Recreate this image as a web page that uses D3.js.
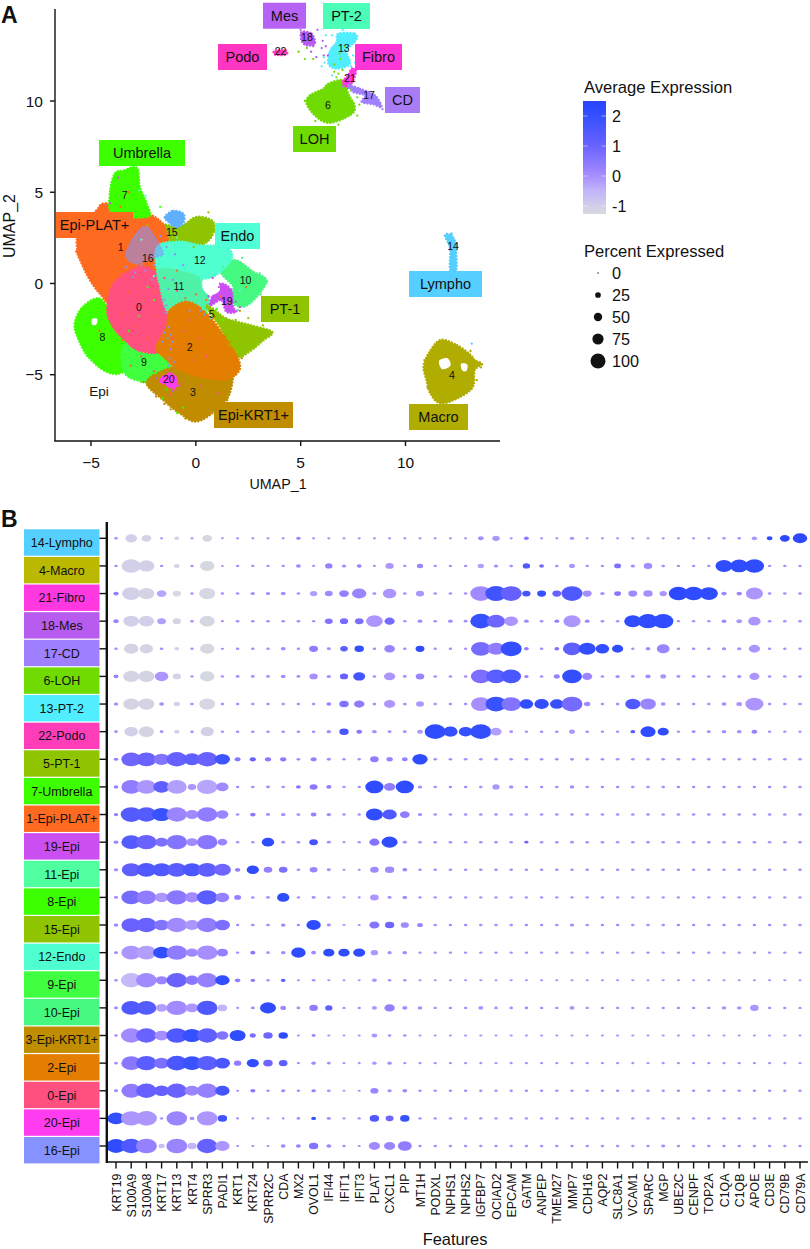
<!DOCTYPE html>
<html><head><meta charset="utf-8">
<script src="https://cdnjs.cloudflare.com/ajax/libs/d3/7.8.5/d3.min.js"></script>
<style>html,body{margin:0;padding:0;background:#fff}svg{display:block}text{font-family:"Liberation Sans",Arial,sans-serif;fill:#111}</style>
</head><body><svg id="c" width="810" height="1249"></svg>
<script>
// ---------- panel B data ----------
const features=["KRT19","S100A9","S100A8","KRT17","KRT13","KRT4","SPRR3","PADI1","KRT1","KRT24","SPRR2C","CDA","MX2","OVOL1","IFI44","IFIT1","IFIT3","PLAT","CXCL1","PIP","MT1H","PODXL","NPHS1","NPHS2","IGFBP7","OCIAD2","EPCAM","GATM","ANPEP","TMEM27","MMP7","CDH16","AQP2","SLC8A1","VCAM1","SPARC","MGP","UBE2C","CENPF","TOP2A","C1QA","C1QB","APOE","CD3E","CD79B","CD79A"];
const rowLabels=["14-Lympho","4-Macro","21-Fibro","18-Mes","17-CD","6-LOH","13-PT-2","22-Podo","5-PT-1","7-Umbrella","1-Epi-PLAT+","19-Epi","11-Epi","8-Epi","15-Epi","12-Endo","9-Epi","10-Epi","3-Epi-KRT1+","2-Epi","0-Epi","20-Epi","16-Epi"];
const rowColors=["#55CFFF","#BBB800","#FF38E0","#B85CF0","#9F80FF","#6FDB00","#50EEFF","#FF3DB8","#8FC500","#3DFF00","#FF6A21","#CB4FF0","#4FFFA0","#3CFF00","#8EC400","#50FFD0","#40FF40","#45F880","#C08C00","#E47E00","#FF5080","#FF3CF0","#8592FF"];
const pct=[
[6,48,35,5,12,5,35,4,5,5, 5,5,10,5,5,5,5,5,5,5, 5,5,5,5,15,22,5,12,5,5, 10,5,5,5,5,5,5,5,5,5, 6,6,14,15,35,65],
[6,90,75,6,15,6,65,4,6,6, 6,6,12,5,22,10,12,5,26,6, 18,6,6,6,18,10,7,22,12,7, 16,6,6,20,10,28,7,6,6,6, 80,85,90,6,6,6],
[14,85,75,35,25,6,75,6,7,10, 10,12,7,22,24,35,65,8,60,7, 26,7,7,7,98,100,98,26,30,30, 98,30,10,20,30,33,22,90,90,85, 14,14,80,7,7,7],
[14,73,70,28,25,7,70,5,7,7, 7,7,7,6,24,25,28,78,38,6, 12,7,12,8,98,85,60,12,7,12, 80,12,7,7,80,95,95,6,6,6, 13,15,52,7,7,7],
[7,65,58,7,13,6,64,5,7,7, 7,12,6,30,9,23,33,7,42,7, 30,6,6,6,92,80,98,12,7,12, 85,80,60,45,6,12,55,7,7,7, 10,10,45,6,6,6],
[13,75,75,60,25,6,65,6,8,8, 8,12,8,26,10,25,50,7,45,8, 28,7,7,7,92,92,92,10,7,16, 92,38,7,10,8,14,16,8,8,7, 7,10,38,7,7,7],
[10,75,75,12,18,7,75,6,7,7, 7,7,7,7,12,33,40,8,45,8, 24,7,7,7,92,98,92,60,65,60, 98,18,6,8,70,74,12,7,7,7, 12,16,85,7,7,7],
[8,60,70,8,14,7,58,6,7,7, 7,7,7,7,11,33,15,12,8,8, 15,98,65,60,98,45,8,6,7,7, 16,7,6,6,12,70,45,6,9,9, 11,11,15,6,6,6],
[10,92,92,75,96,80,96,70,16,17, 17,17,8,16,9,6,6,28,18,15, 70,7,7,7,7,7,7,7,7,7, 8,7,7,7,7,7,7,7,7,7, 7,7,7,7,7,7],
[11,92,92,78,92,28,96,52,7,7, 8,7,12,24,13,6,6,85,45,85, 10,7,7,7,7,22,11,7,7,7, 11,7,7,7,7,7,7,7,7,7, 7,7,7,7,7,7],
[11,98,96,88,96,55,96,50,7,14, 9,11,8,15,11,6,6,80,65,35, 10,7,7,7,7,7,7,7,7,7, 7,7,7,7,7,7,7,7,7,7, 7,7,7,7,7,7],
[11,92,96,55,96,45,96,35,6,6, 52,8,7,28,9,5,6,38,75,9, 7,7,7,7,7,7,7,9,7,7, 8,7,7,7,7,7,7,7,7,7, 7,7,7,7,7,7],
[10,88,92,88,92,88,92,80,14,52, 28,28,7,24,9,5,5,28,33,12, 7,7,7,7,7,7,7,7,7,7, 7,7,7,7,7,7,7,7,7,7, 7,7,7,7,7,7],
[9,92,92,60,96,65,96,60,20,7, 8,52,6,9,6,5,5,28,9,11, 6,6,6,6,6,6,6,6,6,6, 6,6,6,6,6,6,6,6,6,6, 6,6,6,6,6,6],
[11,92,96,70,96,65,96,70,6,8, 8,11,7,65,9,5,5,38,33,25, 16,7,7,7,7,7,7,7,7,7, 10,7,7,7,7,7,7,7,7,7, 7,7,7,7,7,7],
[9,92,92,80,96,50,96,45,6,13, 7,10,65,13,45,45,50,22,10,11, 6,6,6,6,6,6,6,6,6,6, 6,6,6,6,6,6,6,6,6,6, 6,6,6,6,6,6],
[7,96,96,48,96,58,96,65,14,11, 6,11,5,7,5,5,4,13,6,6, 5,5,5,5,5,5,5,5,5,5, 5,5,5,5,5,5,5,5,5,5, 5,5,5,5,5,5],
[9,92,92,45,96,55,96,33,5,9, 75,16,8,28,22,6,6,13,40,13, 11,6,6,6,13,7,7,7,6,6, 13,6,6,6,6,6,6,6,6,6, 11,11,28,6,6,6],
[7,96,96,62,98,88,96,50,75,17, 33,33,5,9,5,4,4,15,6,7, 5,5,5,5,5,5,5,5,5,5, 5,5,5,5,5,5,5,5,5,5, 5,5,5,5,5,5],
[7,92,96,70,98,92,96,70,22,50, 33,28,5,11,7,4,4,11,10,5, 5,5,5,5,5,5,5,5,5,5, 5,5,5,5,5,5,5,5,5,5, 5,5,5,5,5,5],
[9,92,96,70,96,65,96,65,5,13, 6,10,6,11,8,5,5,25,10,12, 6,6,6,6,6,6,6,6,6,6, 6,6,6,6,6,6,6,6,6,6, 6,6,6,6,6,6],
[80,96,98,6,96,12,96,33,5,5, 5,4,7,12,9,5,6,33,24,33, 6,6,6,6,6,6,6,6,6,6, 6,6,6,6,6,6,6,6,6,6, 6,6,6,6,6,6],
[92,96,98,18,98,33,96,65,5,5, 5,12,12,33,12,6,5,45,45,62, 6,6,6,6,6,6,6,6,6,6, 6,6,6,6,6,6,9,6,6,6, 6,6,6,6,6,6]
];
const expr=[
[.1,-1,-1.1,0,-1.1,0,-1.2,0,0,0, 0,0,.3,0,0,0,0,0,0,0, 0,0,0,0,0,-.1,0,.5,0,0, 0,0,0,0,0,0,0,0,0,0, 0,0,-.1,2.2,2.3,2.3],
[.1,-1,-1,0,-1.1,0,-1.2,0,0,0, 0,0,.1,0,.3,0,.3,0,-.1,0, .2,0,0,0,-.2,0,0,1.5,.8,0, -.1,0,0,.7,0,.1,0,0,0,0, 2.2,2.2,2.2,0,0,0],
[.3,-1,-1.1,-.3,-1.2,0,-1.2,0,0,0, 0,0,0,-.2,.1,.3,.2,0,-.1,0, -.1,0,0,0,.1,1.8,1.1,1.7,2,1, 1.5,0,0,.5,.1,0,-.1,2.3,2.2,2.2, .1,.2,-.1,0,0,0],
[.3,-1,-1,-.2,-1.1,0,-1.2,0,0,0, 0,0,0,0,.6,.8,.7,-.1,.8,0, .1,0,0,0,2,.9,-.1,.1,0,.4, -.1,.1,0,0,2.2,2.2,2.2,0,0,0, .1,-.1,-.1,0,0,0],
[0,-1.1,-1.1,0,-1.1,0,-1.2,0,0,0, 0,.1,0,.4,0,1.2,2,0,.2,0, 2.2,0,0,0,.8,.4,2.1,.3,0,.6, 1.2,2.1,2.1,2.2,0,0,.2,0,0,0, 0,0,-.1,0,0,0],
[.2,-1.1,-1.1,-.1,-1.1,0,-1.2,0,0,0, 0,.1,0,0,0,1,1.7,0,-.1,0, .2,0,0,0,.7,1.3,1.6,.2,0,.3, 2.1,.2,0,0,0,0,-.1,0,0,0, 0,0,-.1,0,0,0],
[.1,-1.1,-1.1,0,-1.1,0,-1.2,0,0,0, 0,0,0,0,.2,.6,.4,0,-.1,0, -.1,0,0,0,0,1.9,.6,2.1,2.1,2, .8,.1,0,0,1.5,.2,0,0,0,0, 0,-.1,-.1,0,0,0],
[0,-1,-1.1,0,-1.1,0,-1,0,0,0, 0,0,0,0,0,1.6,.5,0,0,0, -.1,2.2,2,2,2.1,-.2,0,0,0,0, -.1,0,0,0,1.4,2.2,2.2,0,0,0, 0,0,.3,0,0,0],
[.3,.9,1,.6,1.1,1.2,1,1.8,.5,1, .5,.5,0,.3,0,0,0,.4,.2,.3, 2.2,0,0,0,0,0,0,0,0,0, 0,0,0,0,0,0,0,0,0,0, 0,0,0,0,0,0],
[.3,.4,-.1,1.2,-.2,-.1,-.3,.1,0,0, 0,0,.6,.5,.4,0,0,2.2,.4,2.2, 0,0,0,0,0,-.1,0,0,0,0, 0,0,0,0,0,0,0,0,0,0, 0,0,0,0,0,0],
[.3,1.4,1.4,1.9,.2,.1,.4,.2,0,.5, 0,0,0,.3,.1,0,0,2.2,1.5,.4, 0,0,0,0,0,0,0,0,0,0, 0,0,0,0,0,0,0,0,0,0, 0,0,0,0,0,0],
[.2,1.4,1,.7,.6,.1,.5,.2,0,0, 2.2,0,0,1.7,0,0,0,.6,2.2,0, 0,0,0,0,0,0,0,.9,0,0, 0,0,0,0,0,0,0,0,0,0, 0,0,0,0,0,0],
[.1,1.2,1.5,1.5,1.3,1.6,1.2,.9,.4,2.2, .3,.7,0,.2,0,0,0,.1,.1,.2, 0,0,0,0,0,0,0,0,0,0, 0,0,0,0,0,0,0,0,0,0, 0,0,0,0,0,0],
[.1,.8,.4,-.1,.5,.1,1.3,.3,.3,0, 0,2.2,0,0,0,0,0,-.1,0,.1, 0,0,0,0,0,0,0,0,0,0, 0,0,0,0,0,0,0,0,0,0, 0,0,0,0,0,0],
[.2,1,1,.6,.1,-.1,.4,.7,0,0, 0,.1,0,2.2,0,0,0,.6,.9,.1, .2,0,0,0,0,0,0,0,0,0, 0,0,0,0,0,0,0,0,0,0, 0,0,0,0,0,0],
[.1,-.1,-.2,2.1,.4,.1,0,.3,0,.5, 0,.1,2.2,.1,2.2,2.2,2.2,-.1,0,.1, 0,0,0,0,0,0,0,0,0,0, 0,0,0,0,0,0,0,0,0,0, 0,0,0,0,0,0],
[0,-.6,.1,.2,1,.5,.3,2.1,.4,.5, 0,1.4,0,0,0,0,0,-.1,0,0, 0,0,0,0,0,0,0,0,0,0, 0,0,0,0,0,0,0,0,0,0, 0,0,0,0,0,0],
[.1,1.5,1.4,-.2,.1,-.1,1.5,-.5,0,0, 2.2,.1,0,.4,1.2,0,0,-.1,.3,0, 0,0,0,0,-.1,0,0,0,0,0, -.1,0,0,0,0,0,0,0,0,0, -.1,-.1,-.1,0,0,0],
[0,.1,1,0,1.5,2,1.2,.6,2.2,.7, .9,2.2,0,.1,0,0,0,-.1,0,0, 0,0,0,0,0,0,0,0,0,0, 0,0,0,0,0,0,0,0,0,0, 0,0,0,0,0,0],
[0,.5,1.3,.7,1.6,1.9,1.3,1.6,.4,2.2, .9,1.3,0,.1,0,0,0,-.1,0,0, 0,0,0,0,0,0,0,0,0,0, 0,0,0,0,0,0,0,0,0,0, 0,0,0,0,0,0],
[.1,.4,1.1,1.1,1,.2,.3,1.7,0,.5, 0,.1,0,.3,0,0,0,.2,0,.1, 0,0,0,0,0,0,0,0,0,0, 0,0,0,0,0,0,0,0,0,0, 0,0,0,0,0,0],
[2.1,-.1,-.1,0,.2,0,-.1,1.8,0,0, 0,0,0,2,.1,0,0,1.5,.9,1.9, 0,0,0,0,0,0,0,0,0,0, 0,0,0,0,0,0,0,0,0,0, 0,0,0,0,0,0],
[2.2,1.5,.3,-.7,.2,-.5,1.1,-.1,0,0, 0,.1,.3,.6,.2,0,0,.1,.2,.4, 0,0,0,0,0,0,0,0,0,0, 0,0,0,0,0,0,0,0,0,0, 0,0,0,0,0,0]
];
const legendExprTicks=[2,1,0,-1];
const legendPctTicks=[0,25,50,75,100];

// ---------- panel A data: cluster outlines, UMAP units ----------
const outline1=[[-4.74,4.01],[-4.26,4.38],[-2.5,3.92],[-1.6,3.3],[-1.3,2.2],[-1.2,1],[-1.5,.3],[-2.5,-.4],[-3.9,-1.2],[-4.58,-.55],[-5.14,.36],[-5.66,1.64],[-5.66,1.82],[-5.6,2.74]];
const outline7=[[-3.87,6.02],[-3.4,6.2],[-2.99,6.39],[-2.75,6.2],[-2.67,5.29],[-2.35,4.38],[-2.28,3.65],[-3.95,3.83],[-4.1,4.93]];
const outline15=[[-2.6,3.65],[-.92,3.1],[.03,3.65],[.83,3.38],[.75,2.55],[.03,1.9],[-.92,1.6],[-1.88,1.8],[-2.4,2.92]];
const outlineBlue=[[-1.48,3.65],[-1.08,3.98],[-.6,3.83],[-.57,3.38],[-.92,3.07],[-1.32,3.38]];
const outline12=[[-1.9,1.9],[-.8,2.3],[.19,2.1],[1.46,2],[1.7,1.3],[.9,.4],[.3,.2],[.1,-.3],[-1.5,-.2]];
const outline11=[[-1.7,.8],[.03,.4],[.25,-.18],[.6,-.6],[.5,-1.5],[-.45,-1.4],[-1.3,-1.6],[-1.7,-.2]];
const outline16=[[-2.83,2.74],[-2.35,3.1],[-1.88,2.37],[-1.56,1.64],[-1.88,1.46],[-2.83,1.1],[-3.31,1.46],[-3.23,1.92]];
const outline10=[[1.2,.64],[1.86,1.28],[2.74,.64],[3.37,.18],[2.9,-.73],[2.26,-1.28],[1.62,-.91],[1.78,-.18]];
const outline8=[[-5.39,-1.28],[-4.6,-.82],[-4,-1.7],[-3.3,-2.9],[-2.9,-3.7],[-3.47,-4.84],[-4.26,-4.84],[-5.14,-4.01],[-5.62,-3.01],[-5.78,-2.19]];
const outline9=[[-3.4,-3.3],[-1.8,-3.3],[-1,-4],[-1,-4.9],[-1.9,-5.5],[-2.5,-5.4],[-3.4,-4.9]];
const outline3=[[-2.35,-5.38],[-1.1,-4.6],[.5,-4.7],[1.7,-4.5],[1.62,-6.02],[.98,-6.93],[.03,-7.57],[-.76,-7.12],[-1.56,-6.39]];
const outline5=[[.81,-1.37],[1.46,-1.92],[2.6,-2.28],[3.64,-2.65],[3.24,-3.1],[2.44,-3.83],[1.96,-4.01],[1.46,-3.1],[1.15,-2.37],[.51,-1.28]];
const outline2=[[-1.24,-1.46],[-.45,-1],[.35,-1.46],[1.15,-2.55],[2.1,-4.38],[1.62,-5.2],[.51,-5.2],[-.76,-4.74],[-1.56,-4.01],[-1.88,-3.47],[-1.4,-2.37]];
const outline0=[[-3.9,0],[-2.7,.91],[-1.88,.55],[-1.3,-.4],[-1,-1.28],[-1.3,-2.37],[-1.6,-3.7],[-2.67,-3.7],[-3.31,-3.19],[-3.95,-2.37],[-4.23,-1.46]];
const outline19=[[1.21,0],[1.69,-.36],[1.78,-1.28],[1.94,-1.55],[1.46,-1.55],[1.21,-.91],[.67,-1.19],[.91,-.36]];
const outline20=[[-1.72,-5.29],[-1.24,-4.93],[-.92,-5.2],[-1,-5.75],[-1.4,-5.57]];
const outline4=[[11.66,-3.1],[12.46,-3.38],[13.09,-3.9],[13.3,-4.2],[13.65,-4.42],[13.3,-4.75],[13.2,-5.7],[12.46,-6.3],[11.66,-6.57],[11.18,-6.02],[11,-5.29],[10.86,-4.56],[11.1,-3.83]];
const outline14=[[11.88,2.65],[12.2,2.65],[12.44,2.1],[12.42,1.82],[12.42,.73],[12.13,.73],[12.13,1.82],[12.05,2.19]];
const outline6=[[6.32,10.95],[7.03,11.13],[7.27,10.4],[7.59,9.67],[7.35,9.22],[6.4,8.8],[5.76,9.12],[5.28,9.85],[5.44,10.31],[6.08,10.67]];
const outline13=[[6.79,13.69],[7.59,13.69],[7.64,13.32],[7.19,12.77],[7.35,12.04],[6.71,11.77],[6.32,12.04],[6.4,12.77],[6.71,13.23]];
const outline18=[[5.04,13.78],[5.52,13.69],[5.68,13.14],[5.28,13.05],[5.04,13.32]];
const outline22=[[3.77,12.77],[4.3,12.77],[4.3,12.54],[3.77,12.54]];
const outline21=[[7.43,11.77],[7.64,11.68],[7.51,11.13],[7.27,10.73],[7,11.04],[7.27,11.41]];
const outline17=[[7.27,10.86],[7.83,10.67],[8.54,10.31],[8.86,9.67],[8.46,9.82],[7.91,9.95],[8.07,10.31],[7.51,10.49]];
const holes=[[[11.6,-4.25],[12,-4.1],[12.15,-4.5],[11.75,-4.7]],[[12.65,-4.4],[12.95,-4.45],[12.9,-4.8],[12.7,-4.75]],[[-4.95,-1.95],[-4.7,-1.95],[-4.75,-2.25],[-4.95,-2.25]],[[.5,.15],[.95,.25],[1.15,-.35],[.7,-.65],[.35,-.3]]];

const clusterOrder=[
 [outline8,"#3CFF00",1],[outline9,"#40FF40",1],[outline15,"#8EC400",1],[outline1,"#FF6A21",1],[outline7,"#3DFF00",1],[outlineBlue,"#60B0FF",1],
 [outline10,"#45F880",1],[outline0,"#FF5080",1],[outline12,"#50FFD0",1],[outline11,"#4FF2A8",1],[outline5,"#8FC500",1],[outline3,"#C08C00",1],[outline2,"#E47E00",1],
 [outline16,"#8592FF",.55],[outline19,"#CB4FF0",1],[outline20,"#FF3CF0",1],[outline4,"#B0AC00",1],[outline14,"#55CFFF",1],
 [outline6,"#6FDB00",1],[outline13,"#50EEFF",1],[outline18,"#B85CF0",1],[outline22,"#FF3DB8",1],[outline21,"#FF38E0",1],[outline17,"#9F80FF",1]];

// individual cells
const dots16=[[-1.3,-2.4],[-1.2,-2.8],[-1.1,-3.2],[-1.2,-3.6],[-1.25,-4.1],[-1.3,-4.5],[-1.5,-2.7],[-1.6,-3.2],[-1.45,-1.6],[-1.5,-.9],[-1.3,-.3],[-1.1,.2],[-2.9,.6],[-3.3,.9],[-2.4,.7],[-2,1],[-2.1,.2],[-3.4,2.6],[-1.7,2.6],[-1.4,2],[-1,1.6],[-.6,1],[.2,-1.5],[.4,-1.7],[-.3,-1.5],[-1.35,-3],[-1.05,-4.3],[-1.4,-1.2],[-2.6,1],[-3,.35]];
const dots1=[[-3.2,-.5],[-2.5,-1],[-2,-.5],[-3.5,-1.7],[-2.8,-2.3],[-1.9,-1.8],[-2.3,-3],[-.5,-.8],[.5,-.9],[0,-.6],[-.9,.7],[-3.5,-3.1],[1.2,-.7],[2.4,-.2],[-4.6,-2.6],[-3.1,-4.5],[-5.3,1.5],[-3.2,5],[-3.6,4.2],[-2.4,3.4]];
const dots0=[[-2.6,-4],[-1.8,-.1],[-1.5,.3],[-.9,-.4],[-.3,-2],[-1.1,-3],[-.6,-2.6],[.2,-3],[.5,-4],[-.2,-4.2],[-2,-4.8],[-1.2,-6.1],[-.7,-5.5],[.2,-5.6],[1.1,-6],[-3.6,.5],[-4.1,-.3]];
const dotsGreen=[[-.9,-7.1],[-.6,-6.8],[-1.6,-6.3],[-2.6,-5.4],[-3.4,-3.9],[-2,-.9],[-2.7,-1.8],[-3.2,-2.6],[-1.4,-5.8],[.5,-1.6],[-1.7,4.2],[1,-1.4],[1.3,-2],[-2.3,-.2],[-2.2,3.8],[-4,5.5],[-3.7,3.7],[-1.9,-4.9],[-3,-5]];
const dotsGold=[[-2.5,-5.4],[-2.2,-5.7],[-1.9,-6.2],[-1.5,-6.6],[-1.2,-6.9],[-.5,-7.4],[1.5,-6.4],[1.2,-6.8],[.6,-7.2],[1.7,-5.5],[1.9,-5]];
const dotsPT1=[[2.2,-3.9],[2.8,-3.5],[3.5,-2.9],[3.2,-2.3],[2.5,-1.9],[1.9,-2],[1.6,-3.4],[.3,3.1],[.6,3.9],[-.1,2],[.9,2.9],[-2.3,3.2]];
const dotsOrange=[[2.2,-4.1],[2.1,-4.7],[1.4,-2.9],[1.7,-3.2],[.9,-1.8],[1.6,-1.1],[2.1,-1.5]];
const dotsTeal=[[-.9,2.5],[-.3,2.1],[.6,1.8],[1.4,2.2],[2.1,-.4],[-2.4,4.8],[-2.7,5.1],[-2.6,2.4],[-2,.4],[.7,-1.9],[.35,-1.4]];
const dots19=[[.9,-1],[.6,-.7],[1.1,-.2],[.8,.3],[1.9,-1],[2.1,-1.3],[-1.1,-5.9],[-.8,-5.6],[-1.9,-5.2],[-3.7,5.8],[-4.1,4.4]];
const dotsMacro=[[11.4,-3.5],[13.3,-4.3],[13.6,-4.6],[10.9,-4.2],[11.05,-5.7],[13.4,-5.3],[13.1,-3.7],[12.9,-6],[11.4,-6.4]];
const dots10=[[3.4,.1],[3.1,-.6],[1.3,.9],[2.2,1.4],[3.05,.55],[2,-1.45]];
const dots6=[[5.2,10],[5.7,8.9],[6.8,8.7],[7.7,9.2],[7.4,10.6],[7.7,10.2],[7.5,9.9],[7.8,9.8],[6.6,12],[7,11.7],[6.8,11.5],[6.9,12.3],[7.1,13],[6.7,11.3],[4.9,12.7],[5.6,12.3],[5.3,12.9],[5.2,12.3],[6.85,12.6],[6.6,11.6]];
const dots18=[[6,12.9],[6.05,13.3],[6.2,13],[5.6,13],[5.5,12.7],[5,13.9],[5.8,13.9],[6.3,12.5],[5.75,12.4],[6.1,12.5]];
const dots13=[[6.2,13.6],[6.5,13.6],[6.1,12.4],[7.6,12.1],[7.7,11.9],[6,11.9],[6.5,11.4],[7,13.9],[7.5,12.5],[7.4,11.9],[6.15,12.1]];
const dots14=[[13.16,-3.3],[12.2,2.75]];
const dots17=[[7,10.8],[7.35,10.9],[8.9,9.55]];
const dotGroups=[[dots1,"#FF6A21"],[dots0,"#FF5080"],[dots16,"#8592FF"],[dotsGreen,"#3DFF00"],[dotsGold,"#C08C00"],[dotsPT1,"#8FC500"],[dotsOrange,"#E47E00"],[dotsTeal,"#50FFD0"],[dots19,"#CB4FF0"],[dotsMacro,"#B0AC00"],[dots10,"#45F880"],[dots6,"#6FDB00"],[dots18,"#B85CF0"],[dots13,"#50EEFF"],[dots14,"#55CFFF"],[dots17,"#9F80FF"]];

const clusterIds=["22","18","13","21","17","6","7","15","1","16","12","14","10","11","19","5","0","2","8","9","20","3","4"];
const clusterX=[4.04,5.3,7.06,7.35,8.26,6.3,-3.39,-1.15,-3.58,-2.29,.19,12.27,2.37,-.81,1.48,.76,-2.71,-.29,-4.46,-2.48,-1.29,-.14,12.22];
const clusterY=[12.72,13.49,12.89,11.24,10.31,9.76,4.84,2.81,1.99,1.39,1.28,2.04,.18,-.15,-.97,-1.68,-1.3,-3.49,-2.93,-4.31,-5.24,-5.95,-5.03];

const tagNames=["Mes","PT-2","Podo","Fibro","CD","LOH","Umbrella","Epi-PLAT+","Endo","Lympho","PT-1","Epi-KRT1+","Macro"];
const tagColors=["#B562F5","#4CFDB8","#FF35C4","#FF35D8","#A97CF5","#6FDB00","#3DFF00","#FF6A21","#4FFFD5","#55CFFF","#8FC500","#C08C00","#B0AC00"];
const umapTicks=[-5,0,5,10];

// ---------- drawing ----------
const svg=d3.select("#c");
const x=d3.scaleLinear().domain([-5,10]).range([91,405.5]);
const y=d3.scaleLinear().domain([-5,10]).range([374.7,101]);
const minus=v=>v<0?"\u2212"+(-v):""+v;

// panel A clusters
const line=d3.line().x(d=>x(d[0])).y(d=>y(d[1])).curve(d3.curveCardinalClosed.tension(0));
const gA=svg.append("g");
gA.selectAll("path.cl").data(clusterOrder).join("path").attr("class","cl").attr("d",d=>line(d[0])).attr("fill",d=>d[1]).attr("fill-opacity",d=>d[2])
  .attr("stroke",d=>d[1]).attr("stroke-opacity",d=>d[2]).attr("stroke-width",2.4).attr("stroke-linecap","round").attr("stroke-dasharray","0.1 3.1");
gA.selectAll("path.hole").data(holes).join("path").attr("class","hole").attr("d",line).attr("fill","#fff");
dotGroups.forEach(([pts,col])=>gA.append("g").selectAll("circle").data(pts).join("circle")
  .attr("cx",d=>x(d[0])).attr("cy",d=>y(d[1])).attr("r",1.15).attr("fill",col));

// panel A axes
const axA=svg.append("g").attr("stroke","#111").attr("stroke-width",1.4);
axA.append("line").attr("x1",55).attr("x2",55).attr("y1",9).attr("y2",441);
axA.append("line").attr("x1",54.3).attr("x2",500).attr("y1",441).attr("y2",441);
axA.selectAll("line.tx").data(umapTicks).join("line").attr("class","tx").attr("x1",x).attr("x2",x).attr("y1",441).attr("y2",446);
axA.selectAll("line.ty").data(umapTicks).join("line").attr("class","ty").attr("y1",y).attr("y2",y).attr("x1",50).attr("x2",55);
svg.append("g").selectAll("text").data(umapTicks).join("text").attr("x",x).attr("y",467.5).attr("text-anchor","middle").attr("font-size",15.5).text(minus);
svg.append("g").selectAll("text").data(umapTicks).join("text").attr("x",43).attr("y",d=>y(d)+5.5).attr("text-anchor","end").attr("font-size",15.5).text(minus);
svg.append("text").attr("x",278).attr("y",489).attr("text-anchor","middle").attr("font-size",14.3).text("UMAP_1");
svg.append("text").attr("transform","translate(15,226) rotate(-90)").attr("text-anchor","middle").attr("font-size",16).text("UMAP_2");

// cluster numbers
svg.append("g").selectAll("text").data(clusterIds).join("text").attr("x",(d,i)=>x(clusterX[i])).attr("y",(d,i)=>y(clusterY[i])+3.7)
  .attr("text-anchor","middle").attr("font-size",10.5).text(d=>d);
svg.append("text").attr("x",99).attr("y",396).attr("text-anchor","middle").attr("font-size",13.5).text("Epi");

// tag boxes
const tagX0=[263,323,218,355,385,293,99,56,215,409,261,214,409];
const tagX1=[306,370,267,402,420,336,185,133,260,482,309,293,468];
const tagY0=[2.7,3,44,44,87,126,140,212,223,271,296,402,404];
const tags=svg.append("g").selectAll("g").data(tagNames).join("g");
tags.append("rect").attr("x",(d,i)=>tagX0[i]).attr("y",(d,i)=>tagY0[i]).attr("width",(d,i)=>tagX1[i]-tagX0[i]).attr("height",26).attr("fill",(d,i)=>tagColors[i]);
tags.append("text").attr("x",(d,i)=>(tagX0[i]+tagX1[i])/2).attr("y",(d,i)=>tagY0[i]+18).attr("text-anchor","middle").attr("font-size",14.5).text(d=>d);

svg.append("text").attr("x",1).attr("y",23).attr("font-size",23).attr("font-weight","bold").text("A");
svg.append("text").attr("x",1).attr("y",527).attr("font-size",23).attr("font-weight","bold").text("B");

// colour + size
const colour=d3.scaleLinear().domain([-1.3,-1,-.5,0,1,2,2.5]).range(["#d6dbdd","#d2cfe8","#c2b5fb","#a78eff","#6a62ff","#3450ff","#2845ff"]).clamp(true);
const radius=d3.scaleLinear().domain([0,8,25,50,75,100]).range([.7,1.35,2.85,4.2,5.6,7.5]);
const stretch=1.43;

// legend: colour bar
const grad=svg.append("defs").append("linearGradient").attr("id","cb").attr("x1",0).attr("x2",0).attr("y1",1).attr("y2",0);
const by=d3.scaleLinear().domain([-1,2]).range([206,116]);
d3.range(0,21).forEach(i=>{const v=by.invert(214+(101-214)*i/20);grad.append("stop").attr("offset",i/20).attr("stop-color",colour(v));});
svg.append("text").attr("x",584).attr("y",92.5).attr("font-size",16.6).text("Average Expression");
svg.append("rect").attr("x",583).attr("y",101).attr("width",23).attr("height",113).attr("fill","url(#cb)");
const cbt=svg.append("g");
legendExprTicks.forEach(v=>{
  [[583,587.6],[601.4,606]].forEach(([a,b])=>cbt.append("line").attr("x1",a).attr("x2",b).attr("y1",by(v)).attr("y2",by(v)).attr("stroke","#fff").attr("stroke-opacity",.7).attr("stroke-width",.7));
  cbt.append("text").attr("x",612).attr("y",by(v)+6).attr("font-size",16.2).text(v);
});
// legend: size
svg.append("text").attr("x",584).attr("y",256.5).attr("font-size",16.6).text("Percent Expressed");
const ly=d3.scalePoint().domain(legendPctTicks).range([273,361]);
svg.append("g").selectAll("circle").data(legendPctTicks).join("circle").attr("cx",598).attr("cy",ly).attr("r",radius).attr("fill","#111");
svg.append("g").selectAll("text").data(legendPctTicks).join("text").attr("x",612).attr("y",d=>ly(d)+6).attr("font-size",16.2).text(d=>d);

// panel B
const fx=d3.scalePoint().domain(features).range([116,800]);
const ry=d3.scalePoint().domain(rowLabels).range([538.3,1146]);
const gB=svg.append("g");
rowLabels.forEach((r,i)=>{
  gB.append("rect").attr("x",24).attr("y",ry(r)-9).attr("width",75.5).attr("height",26.4).attr("fill",rowColors[i]);
  gB.append("text").attr("x",61.8).attr("y",ry(r)+8.8).attr("text-anchor","middle").attr("font-size",12.5).text(r);
});
const cells=[];
rowLabels.forEach((r,i)=>features.forEach((f,j)=>cells.push({r,f,p:pct[i][j],e:expr[i][j]})));
gB.append("g").selectAll("ellipse").data(cells).join("ellipse").attr("cx",d=>fx(d.f)).attr("cy",d=>ry(d.r))
  .attr("rx",d=>radius(d.p)*stretch).attr("ry",d=>radius(d.p)).attr("fill",d=>colour(d.e));
const axB=svg.append("g").attr("stroke","#111");
axB.append("line").attr("x1",106.8).attr("x2",106.8).attr("y1",522).attr("y2",1163).attr("stroke-width",2.4);
axB.append("line").attr("x1",106).attr("x2",808).attr("y1",1162).attr("y2",1162).attr("stroke-width",1.6);
axB.selectAll("line.t").data(rowLabels).join("line").attr("class","t").attr("x1",99.5).attr("x2",106).attr("y1",ry).attr("y2",ry).attr("stroke-width",1.4);
axB.selectAll("line.f").data(features).join("line").attr("class","f").attr("x1",fx).attr("x2",fx).attr("y1",1162).attr("y2",1168.5).attr("stroke-width",1.4);
svg.append("g").selectAll("text").data(features).join("text").attr("transform",d=>`translate(${fx(d)+4.5},1173.5) rotate(-90)`)
  .attr("text-anchor","end").attr("font-size",12.4).text(d=>d);
svg.append("text").attr("x",455).attr("y",1245).attr("text-anchor","middle").attr("font-size",16.4).text("Features");
</script></body></html>
